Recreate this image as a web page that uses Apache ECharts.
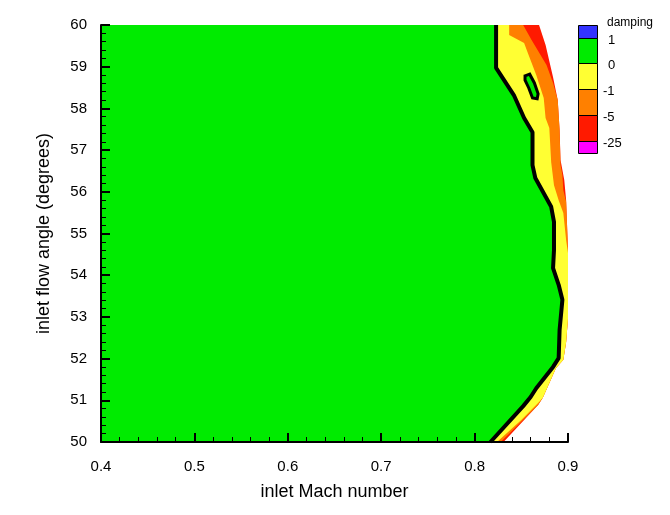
<!DOCTYPE html>
<html>
<head>
<meta charset="utf-8">
<title>damping</title>
<script src="https://cdn.jsdelivr.net/npm/echarts@6/dist/echarts.min.js"></script>
<style>
  html, body { margin: 0; padding: 0; background: #fff; }
  #chart { width: 670px; height: 515px; }
</style>
</head>
<body>
<div id="chart"></div>
<script>
// contour edges, points are [inlet Mach number, inlet flow angle]
// outer edge of the computed field (beyond it nothing is drawn)
const outerEdge = [[0.869, 60], [0.876, 59.52], [0.884, 58.75], [0.889, 58.2], [0.891, 57.48], [0.892, 56.76],
  [0.896, 56.28], [0.898, 55.8], [0.9, 54.6], [0.9, 52.97], [0.898, 52.4], [0.895, 51.97], [0.887, 51.77],
  [0.873, 51.06], [0.868, 50.89], [0.831, 50]];
// damping = -5
const edgeMinus5 = [[0.852, 60], [0.861, 59.64], [0.877, 59.04], [0.884, 58.61], [0.889, 58.2], [0.891, 57.48],
  [0.892, 56.64], [0.894, 56.4], [0.895, 56.04], [0.898, 55.76], [0.9, 54.6], [0.9, 52.97], [0.898, 52.4],
  [0.895, 51.97], [0.887, 51.77], [0.873, 51.06], [0.868, 50.89], [0.841, 50.29], [0.828, 50]];
// damping = -1
const edgeMinus1 = [[0.837, 60], [0.837, 59.76], [0.853, 59.57], [0.857, 59.33], [0.866, 58.8], [0.874, 58.25],
  [0.876, 57.77], [0.88, 57.53], [0.882, 56.71], [0.885, 56.16], [0.89, 55.8], [0.895, 55.49], [0.898, 54.84],
  [0.9, 54.53], [0.9, 52.97], [0.898, 52.4], [0.895, 51.97], [0.887, 51.77], [0.873, 51.06], [0.869, 50.96],
  [0.85, 50.53], [0.824, 50]];
// damping = 0 (black line)
const edgeZero = [[0.823, 60], [0.823, 58.97], [0.842, 58.32], [0.853, 57.77], [0.862, 57.43], [0.862, 56.64],
  [0.865, 56.33], [0.882, 55.64], [0.885, 55.28], [0.885, 54.6], [0.884, 54.17], [0.89, 53.77], [0.894, 53.41],
  [0.891, 52.69], [0.89, 52.01], [0.884, 51.8], [0.866, 51.29], [0.86, 51.08], [0.852, 50.86], [0.817, 50]];
// small closed damping = 0 loop
const islandZero = [[0.854, 58.78], [0.859, 58.82], [0.864, 58.61], [0.868, 58.35], [0.867, 58.23],
  [0.862, 58.25], [0.858, 58.49], [0.854, 58.68]];

const legendLabels = ['1', '0', '-1', '-5', '-25'];
const bandColors = ['#3333ff', '#00eb00', '#ffff33', '#ff8000', '#ff1a00', '#ff00ff'];

const FONT = "'Liberation Sans', Arial, sans-serif";
const X_MIN = 0.4, Y_TOP = 60, Y_BOT = 50;

// region left of an edge: close it along the left side of the plot
function region(edge) {
  return [[X_MIN, Y_TOP]].concat(edge, [[X_MIN, Y_BOT]]);
}

function polySeries(pts, fill, stroke, width) {
  return {
    type: 'custom',
    coordinateSystem: 'cartesian2d',
    silent: true,
    clip: true,
    data: pts,
    renderItem: function (params, api) {
      if (params.dataIndex !== 0) return null;
      return {
        type: 'polygon',
        shape: { points: pts.map(function (p) { return api.coord(p); }) },
        style: { fill: fill, stroke: stroke || null, lineWidth: width || 0 }
      };
    }
  };
}

// legend bar on the right
const legendTop = 25, boxH = [13, 25, 26, 26, 26, 12];
const graphics = [{
  type: 'text', left: 607, top: 17,
  style: { text: 'damping', font: '12px ' + FONT, fill: '#000' }
}];
let yy = legendTop;
bandColors.forEach(function (c, i) {
  graphics.push({
    type: 'rect', shape: { x: 578.5, y: yy + 0.5, width: 19, height: boxH[i] },
    style: { fill: c, stroke: '#000', lineWidth: 1 }
  });
  yy += boxH[i];
  if (i < legendLabels.length) {
    const lab = legendLabels[i];
    graphics.push({
      type: 'text', x: lab.charAt(0) === '-' ? 603 : 608, y: yy + 2,
      style: { text: lab, font: '13px ' + FONT, fill: '#000', verticalAlign: 'middle' }
    });
  }
});

const chart = echarts.init(document.getElementById('chart'));
chart.setOption({
  animation: false,
  backgroundColor: '#fff',
  grid: { left: 101, top: 25, width: 467, height: 417, outerBoundsMode: 'none' },
  xAxis: {
    type: 'value', min: 0.4, max: 0.9, interval: 0.1, z: 10,
    name: 'inlet Mach number', nameLocation: 'middle', nameGap: 41,
    nameTextStyle: { fontSize: 18, fontFamily: FONT, color: '#000' },
    axisLine: { onZero: false, lineStyle: { color: '#000', width: 2 } },
    axisTick: { inside: true, length: 9, lineStyle: { color: '#000', width: 2 } },
    minorTick: { show: true, splitNumber: 5, length: 5, lineStyle: { color: '#000', width: 1 } },
    axisLabel: { margin: 17, fontSize: 15, fontFamily: FONT, color: '#000' },
    splitLine: { show: false }
  },
  yAxis: {
    type: 'value', min: 50, max: 60, interval: 1, z: 10,
    name: 'inlet flow angle (degrees)', nameLocation: 'middle', nameGap: 48,
    nameTextStyle: { fontSize: 18, fontFamily: FONT, color: '#000' },
    axisLine: { show: true, onZero: false, lineStyle: { color: '#000', width: 2 } },
    axisTick: { show: true, inside: true, length: 9, lineStyle: { color: '#000', width: 2 } },
    minorTick: { show: true, splitNumber: 5, length: 5, lineStyle: { color: '#000', width: 1 } },
    axisLabel: { margin: 14, fontSize: 15, fontFamily: FONT, color: '#000' },
    splitLine: { show: false }
  },
  graphic: graphics,
  series: [
    polySeries(region(outerEdge), bandColors[4]),
    polySeries(region(edgeMinus5), bandColors[3]),
    polySeries(region(edgeMinus1), bandColors[2]),
    polySeries(region(edgeZero), bandColors[1]),
    {
      type: 'line', data: edgeZero, showSymbol: false, silent: true,
      lineStyle: { color: '#000', width: 4 }
    },
    polySeries(islandZero, bandColors[1], '#000', 3)
  ]
});
</script>
</body>
</html>
